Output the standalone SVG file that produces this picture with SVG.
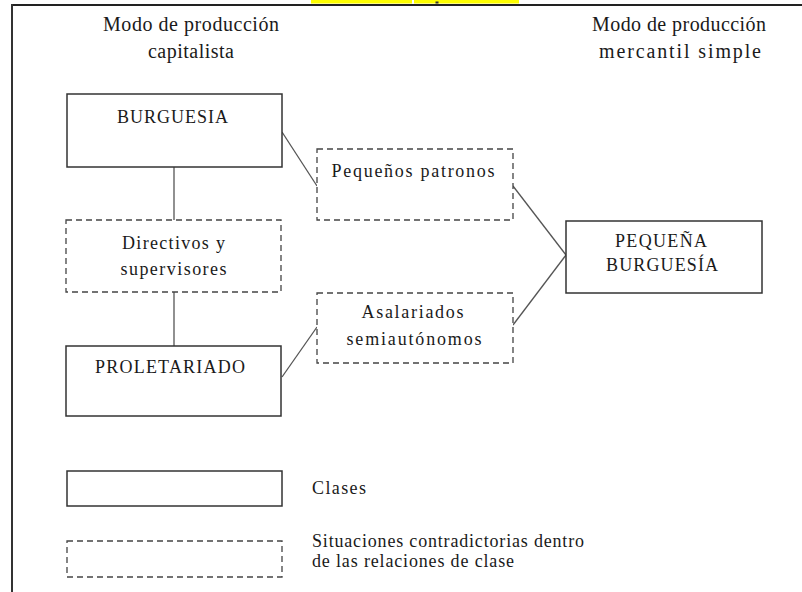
<svg xmlns="http://www.w3.org/2000/svg" width="802" height="592" viewBox="0 0 802 592">
<style>
text{font-family:"Liberation Serif","Times New Roman",serif;fill:#1a1a1a}
.h{font-size:20px}
.t{font-size:18px}
.c{text-anchor:middle}
.solid{fill:#fff;stroke:#333;stroke-width:1.5}
.dash{fill:#fff;stroke:#444;stroke-width:1.3;stroke-dasharray:6 4}
.conn line{stroke:#555;stroke-width:1.3}
</style>
<rect width="802" height="592" fill="#fff"/>
<g id="frame">
<rect x="311" y="0" width="101" height="3.5" fill="#ffff00"/>
<rect x="414" y="0" width="105" height="3.5" fill="#ffff00"/>
<rect x="435.5" y="1.5" width="3" height="2" fill="#333"/>
<line x1="11" y1="5" x2="802" y2="5" stroke="#222" stroke-width="2.2"/>
<line x1="12" y1="4" x2="12" y2="592" stroke="#333" stroke-width="2"/>
</g>
<g id="headers">
<text class="h c" x="191" y="31" textLength="176">Modo de producción</text>
<text class="h c" x="191" y="58" textLength="86">capitalista</text>
<text class="h c" x="679" y="31" textLength="174">Modo de producción</text>
<text class="h c" x="680" y="58" textLength="162">mercantil simple</text>
</g>
<g class="conn" id="connectors">
<line x1="174" y1="167" x2="174" y2="220"/>
<line x1="174" y1="292" x2="174" y2="346"/>
<line x1="282" y1="132" x2="317" y2="186"/>
<line x1="282" y1="377" x2="317" y2="327"/>
<line x1="513" y1="186" x2="566" y2="255"/>
<line x1="566" y1="255" x2="513" y2="325"/>
</g>
<g id="burguesia">
<rect class="solid" x="67" y="94" width="215" height="73"/>
<text class="t c" x="172.5" y="123" textLength="111">BURGUESIA</text>
</g>
<g id="directivos">
<rect class="dash" x="66" y="220" width="215" height="72"/>
<text class="t c" x="173.5" y="249" textLength="103">Directivos y</text>
<text class="t c" x="173.5" y="275" textLength="106">supervisores</text>
</g>
<g id="proletariado">
<rect class="solid" x="66" y="346" width="215" height="70"/>
<text class="t c" x="170" y="373" textLength="150">PROLETARIADO</text>
</g>
<g id="pequenos-patronos">
<rect class="dash" x="317" y="149" width="196" height="71"/>
<text class="t c" x="413" y="177" textLength="163">Pequeños patronos</text>
</g>
<g id="asalariados">
<rect class="dash" x="317" y="293" width="196" height="70"/>
<text class="t c" x="412.5" y="318" textLength="102">Asalariados</text>
<text class="t c" x="414" y="345" textLength="135">semiautónomos</text>
</g>
<g id="pequena-burguesia">
<rect class="solid" x="566" y="221" width="196" height="72"/>
<text class="t c" x="661" y="247" textLength="92">PEQUEÑA</text>
<text class="t c" x="662" y="271" textLength="112">BURGUESÍA</text>
</g>
<g id="legend">
<rect class="solid" x="67" y="471" width="215" height="35"/>
<text class="t" x="312" y="494" textLength="54">Clases</text>
<rect class="dash" x="67" y="541" width="215" height="36"/>
<text class="t" x="312" y="547" textLength="272">Situaciones contradictorias dentro</text>
<text class="t" x="312" y="567" textLength="202">de las relaciones de clase</text>
</g>
</svg>
